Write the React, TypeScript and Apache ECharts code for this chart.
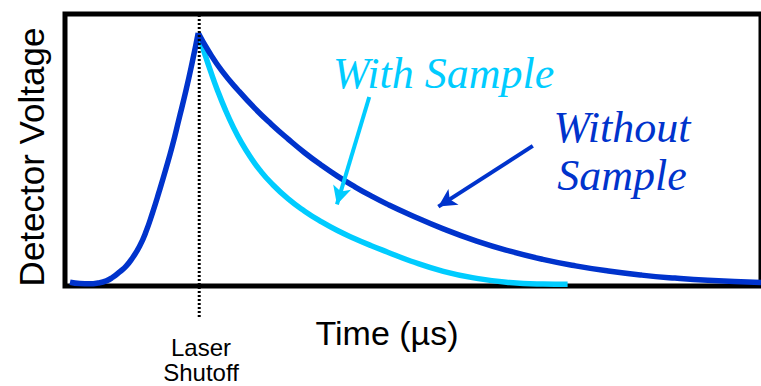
import React, { useEffect, useRef } from "react";
import * as echarts from "echarts";

// Rising edge of the detector signal while the laser is on
const riseTime = [1.0, 3.0, 5.0, 6.6, 8.3, 9.6, 11.0, 12.3, 13.6, 15.0, 16.3, 17.6, 18.9, 20.3, 21.6, 22.9, 24.3, 25.6, 26.8];
const riseVoltage = [1.4, 0.9, 0.8, 1.1, 1.9, 3.2, 5.2, 7.3, 10.4, 14.6, 20.0, 26.9, 34.5, 43.1, 51.6, 61.2, 71.6, 82.3, 93];

// Decay after shutoff, no sample in the beam
const withoutTime = [26.8, 28.9, 31.6, 34.9, 38.2, 41.5, 44.9, 48.2, 51.5, 54.8, 58.2, 61.5, 64.8, 69.4, 76.1, 82.8, 89.5, 96.1, 102.7, 109.3, 116.0, 122.7, 129.3, 140];
const withoutVoltage = [93, 86.3, 79.0, 71.8, 65.3, 59.5, 54.0, 49.0, 44.5, 40.4, 36.6, 33.2, 30.1, 26.2, 21.0, 16.5, 12.8, 9.8, 7.4, 5.5, 4.0, 2.9, 2.1, 1.3];

// Decay after shutoff, sample in the beam
const withTime = [26.8, 28.0, 29.3, 30.7, 32.2, 33.8, 35.5, 37.3, 39.2, 41.5, 44.9, 48.2, 51.5, 54.8, 58.2, 61.5, 64.8, 69.5, 76.1, 82.8, 89.4, 96.1, 101.1];
const withVoltage = [93, 86.0, 78.9, 71.8, 65.0, 58.6, 52.7, 47.4, 42.6, 37.8, 32.0, 27.5, 23.7, 20.4, 17.5, 14.9, 12.5, 9.2, 5.4, 2.8, 1.3, 0.7, 0.6];

const shutoffTime = 27;

// Annotation arrows: [start, end] in (time, voltage)
const withArrow = [[61.2, 69.5], [54.7, 30.0]];
const withoutArrow = [[94.1, 51.5], [75.1, 29.2]];

const DARK = "#0033CC";
const CYAN = "#00CCFF";
const SANS = "'Liberation Sans', Arial, sans-serif";
const SERIF = "'Liberation Serif', 'Times New Roman', serif";

const zip = (xs: number[], ys: number[]) => xs.map((x, i) => [x, ys[i]]);

export default function App() {
  const ref = useRef<HTMLDivElement>(null);

  useEffect(() => {
    document.body.style.margin = "0";
    if (!ref.current) return;
    const chart = echarts.init(ref.current, null, { renderer: "svg" });

    const arrowMark = (pts: number[][], color: string) => ({
      silent: true,
      symbol: ["none", "arrow"],
      symbolSize: [14, 18],
      label: { show: false },
      lineStyle: { color, width: 4, type: "solid" },
      emphasis: { disabled: true },
      data: [[{ coord: pts[0] }, { coord: pts[1] }]],
    });

    const curve = (name: string, xs: number[], ys: number[], color: string, z: number) => ({
      name,
      type: "line",
      data: zip(xs, ys),
      smooth: 0.5,
      showSymbol: false,
      symbol: "none",
      lineStyle: { color, width: 5.5, join: "round" },
      z,
    });

    chart.setOption({
      animation: false,
      grid: [
        {
          left: 65,
          right: -7,
          top: 14,
          bottom: 100,
          show: true,
          borderColor: "#000",
          borderWidth: 5,
          backgroundColor: "transparent",
        },
        { left: 65, right: -7, top: 14, bottom: 69 },
      ],
      xAxis: [
        { type: "value", gridIndex: 0, min: 0, max: 140, show: false },
        { type: "value", gridIndex: 1, min: 0, max: 140, show: false },
      ],
      yAxis: [
        { type: "value", gridIndex: 0, min: 0, max: 100, show: false },
        { type: "value", gridIndex: 1, min: 0, max: 1, show: false },
      ],
      series: [
        { ...curve("With Sample", withTime, withVoltage, CYAN, 2), markLine: arrowMark(withArrow, CYAN) },
        { ...curve("Without Sample", withoutTime, withoutVoltage, DARK, 3), markLine: arrowMark(withoutArrow, DARK) },
        curve("Rise", riseTime, riseVoltage, DARK, 3),
        {
          name: "Laser Shutoff",
          type: "line",
          xAxisIndex: 1,
          yAxisIndex: 1,
          data: [[shutoffTime, 0], [shutoffTime, 1]],
          showSymbol: false,
          symbol: "none",
          lineStyle: { color: "#000", width: 3, type: [2, 2] },
          z: 5,
        },
      ],
      graphic: [
        {
          type: "text",
          x: 31,
          y: 157,
          rotation: Math.PI / 2,
          style: {
            text: "Detector Voltage",
            fontFamily: SANS,
            fontSize: 35,
            fill: "#000",
            align: "center",
            verticalAlign: "middle",
          },
        },
        {
          type: "text",
          x: 387,
          y: 333,
          style: {
            text: "Time (µs)",
            fontFamily: SANS,
            fontSize: 34,
            fill: "#000",
            align: "center",
            verticalAlign: "middle",
          },
        },
        {
          type: "text",
          x: 201,
          y: 360,
          style: {
            text: "Laser\nShutoff",
            fontFamily: SANS,
            fontSize: 24,
            lineHeight: 25,
            fill: "#000",
            align: "center",
            verticalAlign: "middle",
          },
        },
        {
          type: "text",
          x: 333,
          y: 73,
          style: {
            text: "With Sample",
            fontFamily: SERIF,
            fontStyle: "italic",
            fontSize: 44,
            fill: CYAN,
            align: "left",
            verticalAlign: "middle",
          },
        },
        {
          type: "text",
          x: 622,
          y: 151,
          style: {
            text: "Without\nSample",
            fontFamily: SERIF,
            fontStyle: "italic",
            fontSize: 44,
            lineHeight: 48,
            fill: DARK,
            align: "center",
            verticalAlign: "middle",
          },
        },
      ],
    });

    return () => chart.dispose();
  }, []);

  return <div ref={ref} style={{ width: 761, height: 386 }} />;
}
